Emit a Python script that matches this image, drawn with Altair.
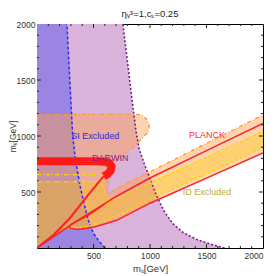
import altair as alt
import pandas as pd

W, H = 226, 224

# ---- region boundaries (m_S, m_V in GeV) ----
purple_x = [1660, 1550, 1415, 1290, 1200, 1130, 1060, 1000, 950, 905, 875, 850, 820, 790, 760]
purple_y = [0, 30, 75, 140, 220, 320, 460, 620, 750, 880, 1050, 1250, 1500, 1750, 2000]

blue_x = [600, 550, 500, 460, 420, 380, 340, 316, 290, 265]
blue_y = [0, 60, 130, 230, 380, 560, 790, 1000, 1500, 2000]

# peach (orange dot-dashed) region: block + diagonal band
peach_top_x = [0, 850, 920, 970, 995, 980, 940, 850, 740, 690, 660, 630, 620, 800, 1000, 1500, 2000]
peach_top_y = [1190, 1195, 1190, 1150, 1090, 1030, 990, 900, 810, 760, 700, 600, 480, 580, 680, 935, 1187]
planck_lo_x = [2000, 1500, 1000, 700, 500, 360, 300, 285]
planck_lo_y = [848, 624, 400, 245, 185, 165, 175, 195]

# yellow (ID) region
yel_block_x = [0, 520, 560, 585, 600, 610, 640]
yel_block_y = [592, 592, 585, 560, 520, 470, 414]
yel_up_x = [290, 350, 500, 700, 1000, 1500, 2000]
yel_up_y = [195, 240, 330, 440, 580, 810, 1040]
yel_lo_x = [290, 320, 450, 700, 1000, 1500, 2000]
yel_lo_y = [195, 180, 190, 280, 430, 665, 895]
yel_dd2_x = [0, 520, 570, 600]
yel_dd2_y = [655, 655, 645, 615]

# red (PLANCK / DARWIN) curves
darwin_x = [0, 520, 600, 640, 660, 652, 625, 590]
darwin_y = [775, 775, 771, 758, 728, 690, 660, 642]
red_left_x = [590, 450, 292, 150, 0]
red_left_y = [642, 470, 268, 120, 0]
red_up_x = [0, 350, 600, 700, 1000, 1500, 2000]
red_up_y = [0, 240, 397, 460, 625, 870, 1112]
red_lo_x = [2000, 1500, 1000, 700, 500, 360, 300, 285, 310, 450, 600]
red_lo_y = [848, 624, 400, 245, 185, 165, 175, 195, 215, 290, 395]

labels = ["SI Excluded", "PLANCK", "DARWIN", "ID Excluded"]
label_x = [515, 1505, 648, 1505]
label_y = [1000, 1010, 806, 500]
label_col = ["#2b2bd6", "#ff2a2a", "#8a1a8a", "#c2ae1e"]

x_ticks = [500, 1000, 1500, 2000]
y_ticks = [500, 1000, 1500, 2000]
minor_ticks = [v for v in range(100, 2000, 100) if v % 500 != 0]
major_ticks = [500, 1000, 1500]


def path(xs_, ys_):
    return pd.DataFrame({"x": xs_, "y": ys_, "i": range(len(xs_))})


xs = alt.Scale(domain=[0, 2000], nice=False, zero=False)
ys = alt.Scale(domain=[0, 2000], nice=False, zero=False)


def poly(df, color, op=1.0):
    return alt.Chart(df).mark_line(fill=color, fillOpacity=op, strokeWidth=0, clip=True).encode(
        x=alt.X("x:Q", scale=xs), y=alt.Y("y:Q", scale=ys), order="i:Q")


def line(df, color, width=1.5, dash=None, op=1.0):
    kw = dict(color=color, strokeWidth=width, clip=True, opacity=op)
    if dash:
        kw["strokeDash"] = dash
    return alt.Chart(df).mark_line(**kw).encode(
        x=alt.X("x:Q", scale=xs), y=alt.Y("y:Q", scale=ys), order="i:Q")


purple_poly = path([0] + purple_x + [0], [0] + purple_y + [2000])
blue_poly = path([0] + blue_x + [0], [0] + blue_y + [2000])
peach_poly = path(peach_top_x + planck_lo_x + [0], peach_top_y + planck_lo_y + [0])
yel_poly = path([0] + yel_block_x + yel_up_x[3:] + yel_lo_x[::-1] + [0],
                [0] + yel_block_y + yel_up_y[3:] + yel_lo_y[::-1] + [0])

layers = [
    poly(purple_poly, "#d9b3da"),
    poly(blue_poly, "#9a85e2"),
    poly(peach_poly, "#ffa050", 0.45),
    poly(yel_poly, "#ffc800", 0.35),
    line(path(purple_x, purple_y), "#7a1a8a", 1.6, [2, 2]),
    line(path(blue_x, blue_y), "#2a2aff", 1.5, [3, 2]),
    line(path(peach_top_x, peach_top_y), "#ff9a30", 1.3, [4, 2, 1, 2]),
    line(path(yel_block_x, yel_block_y), "#ffd400", 1.3, [4, 2, 1, 2]),
    line(path(yel_dd2_x, yel_dd2_y), "#ffd400", 1.3, [4, 2, 1, 2]),
    line(path(yel_up_x, yel_up_y), "#ffd400", 1.5, [3, 2]),
    line(path(yel_lo_x, yel_lo_y), "#ffd400", 1.5, [3, 2]),
    line(path(darwin_x, darwin_y), "#ff1a1a", 8),
    line(path(red_left_x, red_left_y), "#ff2020", 2),
    line(path(red_up_x, red_up_y), "#ff2020", 1.5),
    line(path(red_lo_x, red_lo_y), "#ff2020", 1.5),
]

lab = pd.DataFrame({"t": labels, "x": label_x, "y": label_y, "c": label_col})
layers.append(alt.Chart(lab).mark_text(font="Liberation Sans", fontSize=9).encode(
    x=alt.X("x:Q", scale=xs), y=alt.Y("y:Q", scale=ys), text="t:N",
    color=alt.Color("c:N", scale=None)))

for vals, ln in [(minor_ticks, 2), (major_ticks, 4)]:
    td = pd.DataFrame({"v": vals})
    layers.append(alt.Chart(td).mark_rule(color="#222", strokeWidth=1).encode(
        x=alt.X("v:Q", scale=xs), y=alt.value(H), y2=alt.value(H - ln)))
    layers.append(alt.Chart(td).mark_rule(color="#222", strokeWidth=1).encode(
        x=alt.X("v:Q", scale=xs), y=alt.value(0), y2=alt.value(ln)))
    layers.append(alt.Chart(td).mark_rule(color="#222", strokeWidth=1).encode(
        y=alt.Y("v:Q", scale=ys), x=alt.value(0), x2=alt.value(ln)))
    layers.append(alt.Chart(td).mark_rule(color="#222", strokeWidth=1).encode(
        y=alt.Y("v:Q", scale=ys), x=alt.value(W), x2=alt.value(W - ln)))

axis_x = alt.Axis(values=x_ticks, format="d", title="mₛ[GeV]", grid=False, ticks=False,
                  domain=False, labelFont="Liberation Sans", labelFontSize=8.5,
                  labelColor="#333", labelPadding=3,
                  titleFont="Liberation Sans", titleFontSize=9.5, titleFontWeight="normal",
                  titleColor="#333", titleY=25, titleBaseline="bottom")
axis_y = alt.Axis(values=y_ticks, format="d", title="mᵥ[GeV]", grid=False, ticks=False,
                  domain=False, labelFont="Liberation Sans", labelFontSize=8.5,
                  labelColor="#333", labelPadding=2,
                  titleFont="Liberation Sans", titleFontSize=8.5, titleFontWeight="normal",
                  titleColor="#333", titleX=-24.5, titleBaseline="middle")

base = alt.Chart(purple_poly).mark_point(opacity=0).encode(
    x=alt.X("x:Q", scale=xs, axis=axis_x), y=alt.Y("y:Q", scale=ys, axis=axis_y))

chart = alt.layer(base, *layers).properties(
    width=W, height=H,
    title=alt.TitleParams("ηᵥˢ=1,cₛ=0.25", font="Liberation Sans", fontSize=9.5,
                          fontWeight="normal", color="#222", offset=2),
    autosize=alt.AutoSizeParams(type="none"),
    padding={"left": 29, "top": 16, "right": 3, "bottom": 26},
).configure_view(stroke="#000", strokeWidth=1)

chart.save("out.html", embed_options={"renderer": "svg", "actions": False})
